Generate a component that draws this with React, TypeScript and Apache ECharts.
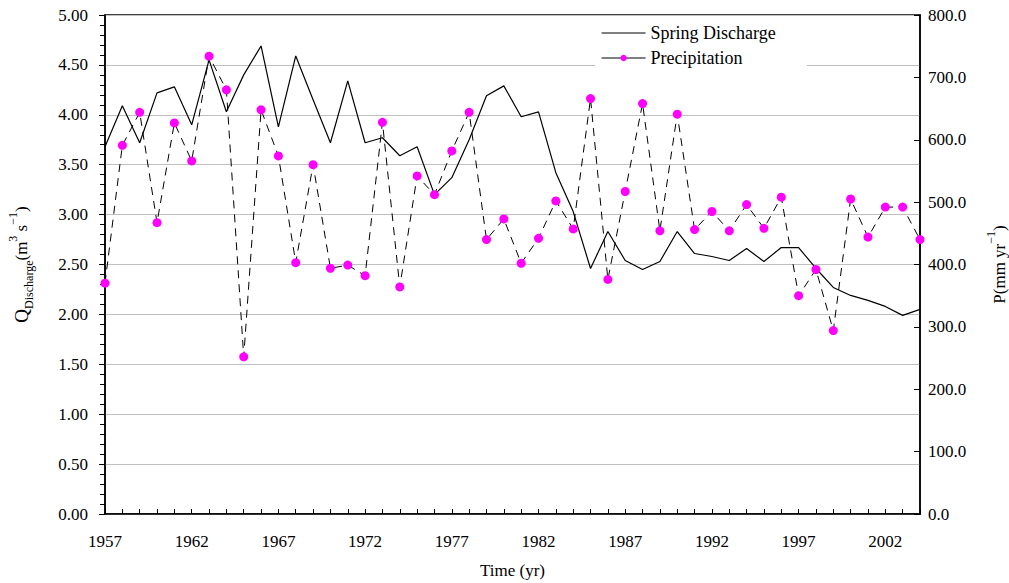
import React, { useEffect, useRef } from "react";
import * as echarts from "echarts";

const years = [
  "1957", "1958", "1959", "1960", "1961", "1962", "1963", "1964", "1965", "1966",
  "1967", "1968", "1969", "1970", "1971", "1972", "1973", "1974", "1975", "1976",
  "1977", "1978", "1979", "1980", "1981", "1982", "1983", "1984", "1985", "1986",
  "1987", "1988", "1989", "1990", "1991", "1992", "1993", "1994", "1995", "1996",
  "1997", "1998", "1999", "2000", "2001", "2002", "2003", "2004",
];

const discharge = [
  3.68, 4.09, 3.72, 4.22, 4.28, 3.9, 4.55, 4.03, 4.4, 4.69,
  3.88, 4.59, 4.15, 3.72, 4.34, 3.72, 3.77, 3.59, 3.68, 3.2,
  3.37, 3.75, 4.19, 4.29, 3.98, 4.03, 3.42, 3.03, 2.46, 2.83,
  2.54, 2.45, 2.53, 2.83, 2.61, 2.58, 2.54, 2.66, 2.53, 2.67,
  2.67, 2.46, 2.27, 2.19, 2.14, 2.08, 1.99, 2.05,
];

const precipitation = [
  370, 591, 644, 467, 627, 566, 734, 680, 252, 648,
  574, 403, 560, 394, 399, 382, 628, 364, 542, 512,
  582, 644, 440, 473, 402, 442, 502, 457, 666, 376,
  517, 658, 454, 641, 456, 485, 454, 496, 458, 508,
  350, 392, 294, 505, 444, 492, 492, 440,
];

const FONT = "Liberation Serif";

export default function App() {
  const ref = useRef<HTMLDivElement>(null);
  useEffect(() => {
    if (!ref.current) return;
    const chart = echarts.init(ref.current, undefined, { renderer: "svg" });
    chart.setOption({
      animation: false,
      backgroundColor: "#fff",
      textStyle: { fontFamily: FONT, color: "#000" },
      grid: {
        left: 105,
        right: 89,
        top: 15,
        bottom: 69,
        containLabel: false,
        outerBoundsMode: "none",
        show: true,
        borderColor: "#000",
        borderWidth: 1.5,
        backgroundColor: "transparent",
      },
      legend: {
        orient: "vertical",
        left: 595,
        top: 21,
        backgroundColor: "#fff",
        padding: [3, 31, 3, 6],
        itemWidth: 44,
        itemHeight: 8,
        itemGap: 7,
        textStyle: { fontFamily: FONT, fontSize: 18, color: "#000" },
        lineStyle: { type: "solid", color: "#000", width: 1.2 },
        data: [
          { name: "Spring Discharge", itemStyle: { color: "rgba(0,0,0,0)", borderWidth: 0 } },
          { name: "Precipitation" },
        ],
      },
      xAxis: {
        type: "category",
        data: years,
        boundaryGap: false,
        name: "Time (yr)",
        nameLocation: "middle",
        nameGap: 48,
        nameTextStyle: { fontFamily: FONT, fontSize: 17, color: "#000" },
        axisLine: { lineStyle: { color: "#000", width: 1.5 } },
        axisTick: { inside: true, interval: 0, length: 5, lineStyle: { color: "#000" } },
        axisLabel: { interval: 4, margin: 19, fontFamily: FONT, fontSize: 17, color: "#000" },
        splitLine: { show: false },
      },
      yAxis: [
        {
          type: "value",
          min: 0,
          max: 5,
          interval: 0.5,
          position: "left",
          name: "{q|Q}{sub|Discharge}{t|(m}{sup|3}{t| s}{sup|−1}{t|)}",
          nameLocation: "middle",
          nameRotate: 90,
          nameGap: 70,
          nameTextStyle: {
            fontFamily: FONT,
            color: "#000",
            rich: {
              q: { fontFamily: FONT, fontSize: 19, lineHeight: 28, verticalAlign: "middle", color: "#000" },
              t: { fontFamily: FONT, fontSize: 17, lineHeight: 28, verticalAlign: "middle", color: "#000" },
              sub: { fontFamily: FONT, fontSize: 12, lineHeight: 13, verticalAlign: "bottom", color: "#000" },
              sup: { fontFamily: FONT, fontSize: 12, lineHeight: 13, verticalAlign: "top", color: "#000" },
            },
          },
          axisLine: { show: true, lineStyle: { color: "#000", width: 1.5 } },
          axisTick: { show: true, length: 6, lineStyle: { color: "#000" } },
          minorTick: { show: true, splitNumber: 5, length: 5, lineStyle: { color: "#000" } },
          axisLabel: {
            margin: 17,
            fontFamily: FONT,
            fontSize: 17,
            color: "#000",
            formatter: (v: number) => v.toFixed(2),
          },
          splitLine: { show: true, lineStyle: { color: "#c0c0c0", width: 1 } },
        },
        {
          type: "value",
          min: 0,
          max: 800,
          interval: 100,
          position: "right",
          name: "{t|P(mm yr}{sup|−1}{t|)}",
          nameLocation: "middle",
          nameRotate: 90,
          nameGap: 65,
          nameTextStyle: {
            fontFamily: FONT,
            color: "#000",
            rich: {
              t: { fontFamily: FONT, fontSize: 17, lineHeight: 28, verticalAlign: "middle", color: "#000" },
              sup: { fontFamily: FONT, fontSize: 12, lineHeight: 13, verticalAlign: "top", color: "#000" },
            },
          },
          axisLine: { show: true, lineStyle: { color: "#000", width: 1.5 } },
          axisTick: { show: true, inside: true, length: 6, lineStyle: { color: "#000" } },
          axisLabel: {
            margin: 8,
            fontFamily: FONT,
            fontSize: 17,
            color: "#000",
            formatter: (v: number) => v.toFixed(1),
          },
          splitLine: { show: false },
        },
      ],
      series: [
        {
          name: "Spring Discharge",
          type: "line",
          yAxisIndex: 0,
          data: discharge,
          symbol: "none",
          lineStyle: { color: "#000", width: 1.2, type: "solid" },
          itemStyle: { color: "#000" },
          z: 3,
        },
        {
          name: "Precipitation",
          type: "line",
          yAxisIndex: 1,
          data: precipitation,
          symbol: "circle",
          symbolSize: 9,
          showAllSymbol: true,
          lineStyle: { color: "#000", width: 1, type: [8, 6] },
          itemStyle: { color: "#ff00ff", borderWidth: 0 },
          z: 4,
        },
      ],
    });
    return () => chart.dispose();
  }, []);
  return (
    <div
      ref={ref}
      style={{ position: "fixed", left: 0, top: 0, width: 1009, height: 583 }}
    />
  );
}
